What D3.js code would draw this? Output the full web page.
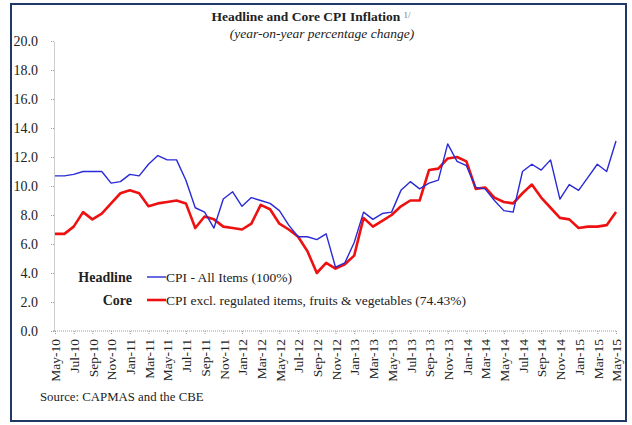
<!DOCTYPE html>
<html>
<head>
<meta charset="utf-8">
<script src="https://cdn.jsdelivr.net/npm/d3@7"></script>
<style>
  body { margin: 0; background: #fff; }
  svg text { font-family: "Liberation Serif", "Times New Roman", serif; fill: #222; }
  .axis path, .axis line { stroke: #9a9a9a; stroke-dasharray: 1,1; }
</style>
</head>
<body>
<div id="chart"></div>
<script>

// months shown on the category axis
var months = [
  "May-10","Jun-10","Jul-10","Aug-10","Sep-10","Oct-10","Nov-10","Dec-10",
  "Jan-11","Feb-11","Mar-11","Apr-11","May-11","Jun-11","Jul-11","Aug-11","Sep-11","Oct-11","Nov-11","Dec-11",
  "Jan-12","Feb-12","Mar-12","Apr-12","May-12","Jun-12","Jul-12","Aug-12","Sep-12","Oct-12","Nov-12","Dec-12",
  "Jan-13","Feb-13","Mar-13","Apr-13","May-13","Jun-13","Jul-13","Aug-13","Sep-13","Oct-13","Nov-13","Dec-13",
  "Jan-14","Feb-14","Mar-14","Apr-14","May-14","Jun-14","Jul-14","Aug-14","Sep-14","Oct-14","Nov-14","Dec-14",
  "Jan-15","Feb-15","Mar-15","Apr-15","May-15"
];

// headline CPI - all items (100%)
var headline = [
  10.7,10.7,10.8,11.0,11.0,11.0,10.2,10.3,
  10.8,10.7,11.5,12.1,11.8,11.8,10.4,8.5,8.2,7.1,9.1,9.6,
  8.6,9.2,9.0,8.8,8.3,7.3,6.5,6.5,6.3,6.7,4.4,4.7,
  6.1,8.2,7.7,8.1,8.2,9.7,10.3,9.8,10.2,10.4,12.9,11.7,
  11.4,9.9,9.8,9.0,8.3,8.2,11.0,11.5,11.1,11.8,9.1,10.1,
  9.7,10.6,11.5,11.0,13.1
];

// core CPI excl. regulated items, fruits & vegetables (74.43%)
var core = [
  6.7,6.7,7.2,8.2,7.7,8.1,8.8,9.5,
  9.7,9.5,8.6,8.8,8.9,9.0,8.8,7.1,7.9,7.7,7.2,7.1,
  7.0,7.4,8.7,8.4,7.4,7.0,6.5,5.5,4.0,4.7,4.3,4.6,
  5.2,7.8,7.2,7.6,8.0,8.6,9.0,9.0,11.1,11.2,11.9,12.0,
  11.7,9.8,9.9,9.2,8.9,8.8,9.5,10.1,9.2,8.5,7.8,7.7,
  7.1,7.2,7.2,7.3,8.2
];

var xTicks = months.filter(function (d, i) { return i % 2 === 0; });
var yTicks = [0, 2, 4, 6, 8, 10, 12, 14, 16, 18, 20];

var W = 632, H = 425;

var svg = d3.select("#chart").append("svg")
  .attr("width", W)
  .attr("height", H);

// outer frame
svg.append("rect")
  .attr("x", 11).attr("y", 4)
  .attr("width", 615).attr("height", 417)
  .attr("fill", "#fff")
  .attr("stroke", "#1f3864")
  .attr("stroke-width", 2);

var xScale = d3.scalePoint().domain(months).range([55, 616]),
  yScale = d3.scaleLinear().domain([0, 20]).range([331, 41]);

// y axis
var yAxis = svg.append("g")
  .attr("class", "axis")
  .attr("transform", "translate(54,0)")
  .call(d3.axisLeft(yScale).tickValues(yTicks).tickFormat(d3.format(".1f")).tickSize(4).tickSizeOuter(0));
yAxis.selectAll("text")
  .attr("x", -16)
  .style("font-size", "14px");

// x axis
var xAxis = svg.append("g")
  .attr("class", "axis")
  .attr("transform", "translate(0,331)")
  .call(d3.axisBottom(xScale).tickValues(xTicks).tickSize(3).tickSizeOuter(0));
xAxis.select(".domain").attr("d", "M53,0H617");
xAxis.selectAll("text")
  .attr("transform", "rotate(-90)")
  .attr("text-anchor", "end")
  .attr("x", -8)
  .attr("y", 0)
  .attr("dy", "0.35em")
  .style("font-size", "13.5px");

var line = d3.line()
  .x(function (d, i) { return xScale(months[i]); })
  .y(function (d) { return yScale(d); });

svg.append("path")
  .datum(core)
  .attr("fill", "none")
  .attr("stroke", "#ee1111")
  .attr("stroke-width", 2.6)
  .attr("stroke-linejoin", "round")
  .attr("d", line);

svg.append("path")
  .datum(headline)
  .attr("fill", "none")
  .attr("stroke", "#2a2ad6")
  .attr("stroke-width", 1.4)
  .attr("stroke-linejoin", "round")
  .attr("d", line);

// titles
var title = svg.append("text")
  .attr("x", 311).attr("y", 21)
  .attr("text-anchor", "middle")
  .style("font-size", "13.5px")
  .style("font-weight", "bold");
title.append("tspan").text("Headline and Core CPI Inflation ");
title.append("tspan")
  .attr("dy", -3)
  .style("font-size", "9px")
  .style("font-weight", "normal")
  .style("fill", "#777")
  .text(" 1/");

svg.append("text")
  .attr("x", 322).attr("y", 38)
  .attr("text-anchor", "middle")
  .style("font-size", "13.5px")
  .style("font-style", "italic")
  .text("(year-on-year percentage change)");

// legend
var legend = [
  { name: "Headline", label: "CPI - All Items (100%)", color: "#2a2ad6", w: 1.4, y: 277 },
  { name: "Core", label: "CPI excl. regulated items, fruits & vegetables (74.43%)", color: "#ee1111", w: 2.6, y: 300 }
];

var lg = svg.selectAll(".legend").data(legend).enter().append("g").attr("class", "legend");
lg.append("text")
  .attr("x", 132).attr("y", function (d) { return d.y + 5; })
  .attr("text-anchor", "end")
  .style("font-size", "14px")
  .style("font-weight", "bold")
  .text(function (d) { return d.name; });
lg.append("line")
  .attr("x1", 147).attr("x2", 166)
  .attr("y1", function (d) { return d.y; })
  .attr("y2", function (d) { return d.y; })
  .attr("stroke", function (d) { return d.color; })
  .attr("stroke-width", function (d) { return d.w; });
lg.append("text")
  .attr("x", 166).attr("y", function (d) { return d.y + 5; })
  .style("font-size", "13.5px")
  .text(function (d) { return d.label; });

// source
svg.append("text")
  .attr("x", 40).attr("y", 401)
  .style("font-size", "12.8px")
  .text("Source: CAPMAS and the CBE");

</script>
</body>
</html>
